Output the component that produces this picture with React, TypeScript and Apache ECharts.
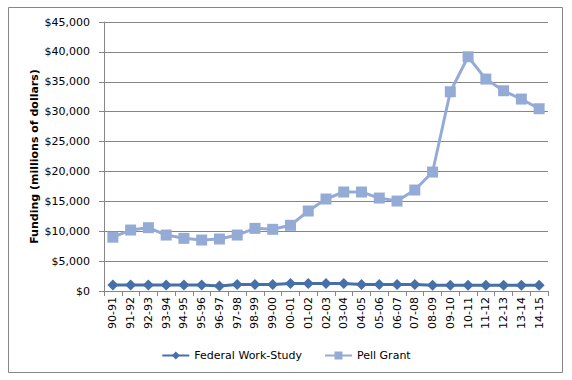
import React, { useEffect, useRef } from "react";
import * as echarts from "echarts";

const categories = [
  "90-91", "91-92", "92-93", "93-94", "94-95", "95-96", "96-97", "97-98", "98-99", "99-00",
  "00-01", "01-02", "02-03", "03-04", "04-05", "05-06", "06-07", "07-08", "08-09", "09-10",
  "10-11", "11-12", "12-13", "13-14", "14-15",
];

const federalWorkStudy = [
  990, 990, 990, 990, 990, 990, 830, 1100, 1100, 1100,
  1250, 1250, 1250, 1250, 1100, 1100, 1100, 1100, 980, 980,
  980, 980, 980, 980, 980,
];

const pellGrant = [
  9000, 10200, 10590, 9360, 8810, 8530, 8700, 9360, 10480, 10320,
  10990, 13380, 15390, 16560, 16560, 15550, 15050, 16890, 19900, 33330,
  39180, 35450, 33500, 32110, 30490,
];

const yTicks = { min: 0, max: 45000, interval: 5000 };

const FONT = "DejaVu Sans";

function fmt(v: number) {
  return "$" + String(v).replace(/\B(?=(\d{3})+(?!\d))/g, ",");
}

export default function App() {
  const ref = useRef<HTMLDivElement>(null);
  useEffect(() => {
    if (!ref.current) return;
    const chart = echarts.init(ref.current, null, { renderer: "svg" });
    chart.setOption({
      animation: false,
      backgroundColor: "#ffffff",
      graphic: [
        {
          type: "rect",
          shape: { x: 8.5, y: 7.5, width: 554, height: 365 },
          style: { fill: "none", stroke: "#868686", lineWidth: 1 },
          silent: true,
        },
      ],
      grid: { left: 104, top: 22, right: 24, bottom: 89 },
      legend: {
        left: "center",
        top: 345,
        itemWidth: 27,
        itemHeight: 10,
        itemGap: 22,
        textStyle: { fontFamily: FONT, fontSize: 11, color: "#000" },
        data: ["Federal Work-Study", "Pell Grant"],
      },
      xAxis: {
        type: "category",
        data: categories,
        boundaryGap: true,
        axisLine: { lineStyle: { color: "#868686", width: 1 } },
        axisTick: { show: true, length: 5, lineStyle: { color: "#868686" } },
        axisLabel: {
          rotate: 90,
          interval: 0,
          fontFamily: FONT,
          fontSize: 11,
          color: "#000",
          margin: 6,
        },
      },
      yAxis: {
        type: "value",
        min: yTicks.min,
        max: yTicks.max,
        interval: yTicks.interval,
        name: "Funding (millions of dollars)",
        nameLocation: "middle",
        nameGap: 64,
        nameMoveOverlap: false,
        nameTextStyle: { fontFamily: FONT, fontSize: 11, fontWeight: "bold", color: "#000" },
        axisLine: { show: true, lineStyle: { color: "#868686", width: 1 } },
        axisTick: { show: true, length: 5, lineStyle: { color: "#868686" } },
        splitLine: { lineStyle: { color: "#868686", width: 1 } },
        axisLabel: {
          formatter: (v: number) => fmt(v),
          fontFamily: FONT,
          fontSize: 11,
          color: "#000",
          margin: 14,
        },
      },
      series: [
        {
          name: "Federal Work-Study",
          type: "line",
          data: federalWorkStudy,
          symbol: "diamond",
          symbolSize: 11,
          lineStyle: { width: 3, color: "#4570A8" },
          itemStyle: { color: "#4570A8" },
          z: 3,
        },
        {
          name: "Pell Grant",
          type: "line",
          data: pellGrant,
          symbol: "rect",
          symbolSize: 11,
          lineStyle: { width: 3, color: "#94ABD6" },
          itemStyle: { color: "#94ABD6" },
          z: 2,
        },
      ],
    });
    return () => chart.dispose();
  }, []);
  return (
    <div
      ref={ref}
      style={{ position: "fixed", left: 0, top: 0, width: 572, height: 380 }}
    />
  );
}
